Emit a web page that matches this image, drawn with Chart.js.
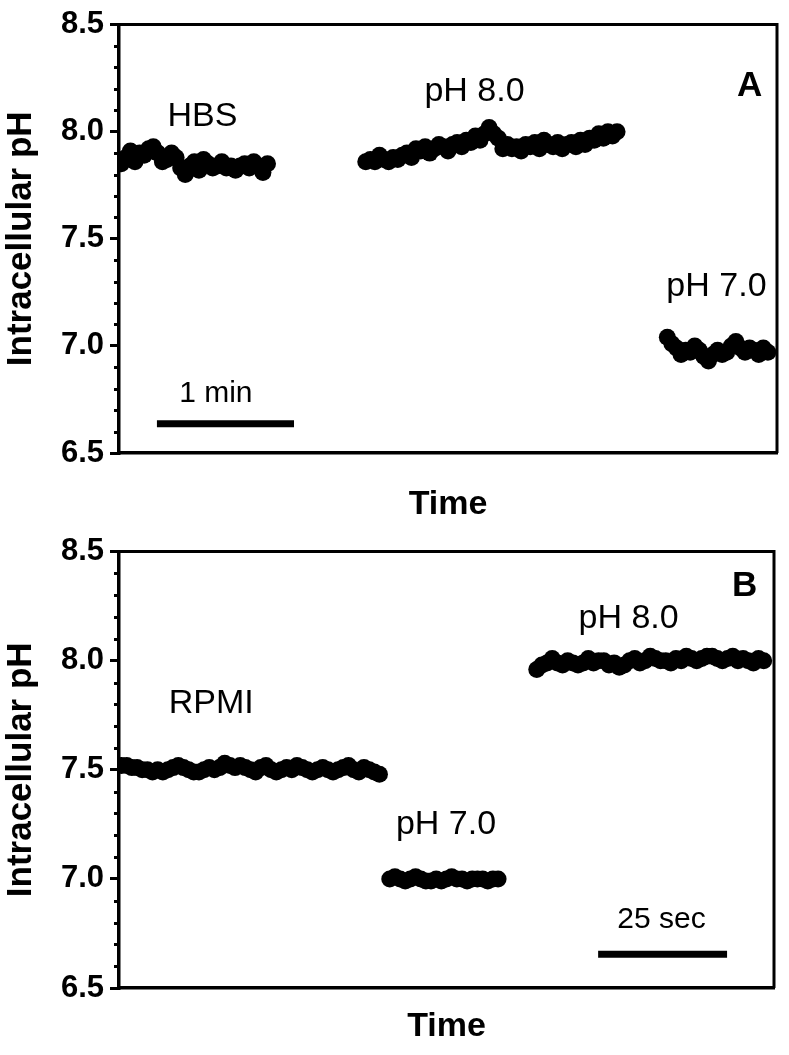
<!DOCTYPE html>
<html>
<head>
<meta charset="utf-8">
<script src="https://cdn.jsdelivr.net/npm/chart.js@4.4.1/dist/chart.umd.min.js"></script>
<style>
  body { margin: 0; background: #fff; }
  .panel { position: absolute; left: 0; }
</style>
</head>
<body>
<canvas id="panelA" class="panel" width="789" height="527" style="top:0"></canvas>
<canvas id="panelB" class="panel" width="789" height="528" style="top:527px"></canvas>
<script>
// y axis labels shared by both panels
const yTicks = [6.5, 7.0, 7.5, 8.0, 8.5];

// Panel A - sampled every 2 s
const aStep = 2;
const aHbsStart = 1;
const aHbsPH = [7.85, 7.88, 7.91, 7.86, 7.90, 7.89, 7.92, 7.93, 7.90, 7.86,
  7.87, 7.90, 7.88, 7.83, 7.80, 7.84, 7.86, 7.82, 7.87, 7.85,
  7.83, 7.84, 7.86, 7.83, 7.84, 7.82, 7.84, 7.85, 7.83, 7.86,
  7.84, 7.81, 7.85];
const aPh8Start = 108;
const aPh8PH = [7.86, 7.87, 7.86, 7.89, 7.87, 7.86, 7.88, 7.87, 7.89, 7.90,
  7.88, 7.92, 7.91, 7.93, 7.90, 7.92, 7.94, 7.93, 7.91, 7.94,
  7.95, 7.93, 7.96, 7.95, 7.98, 7.96, 7.99, 8.02, 7.99, 7.97,
  7.92, 7.94, 7.92, 7.93, 7.91, 7.94, 7.93, 7.95, 7.92, 7.96,
  7.94, 7.93, 7.95, 7.92, 7.94, 7.95, 7.93, 7.96, 7.94, 7.97,
  7.96, 7.99, 7.97, 8.00, 7.98, 8.00];
const aPh7Start = 240;
const aPh7PH = [7.04, 7.01, 6.99, 6.96, 6.98, 6.97, 7.00, 6.98, 6.95, 6.93,
  6.96, 6.98, 6.96, 6.97, 7.00, 7.02, 6.99, 6.97, 6.99, 6.98,
  6.96, 6.99, 6.97];

// Panel B - sampled every 1 s
const bStep = 1;
const bRpmiStart = 0.5;
const bRpmiPH = [7.52, 7.52, 7.51, 7.51, 7.50, 7.50, 7.49, 7.50, 7.49, 7.50,
  7.51, 7.52, 7.51, 7.50, 7.49, 7.49, 7.50, 7.51, 7.50, 7.51,
  7.53, 7.52, 7.51, 7.52, 7.51, 7.50, 7.49, 7.51, 7.52, 7.50,
  7.49, 7.50, 7.51, 7.50, 7.52, 7.51, 7.50, 7.49, 7.50, 7.51,
  7.50, 7.49, 7.50, 7.51, 7.52, 7.50, 7.49, 7.51, 7.50, 7.49,
  7.48];
const bPh7Start = 52.5;
const bPh7PH = [7.00, 7.01, 7.00, 6.99, 7.00, 7.01, 7.00, 6.99, 6.99, 7.00,
  6.99, 7.00, 7.01, 7.00, 7.00, 6.99, 7.00, 7.00, 7.00, 6.99,
  7.00, 7.00];
const bPh8Start = 81;
const bPh8PH = [7.96, 7.98, 7.99, 8.01, 7.99, 7.98, 8.00, 7.99, 7.98, 7.99,
  8.01, 7.99, 8.00, 8.00, 7.98, 7.99, 7.97, 7.98, 8.00, 8.01,
  7.99, 8.00, 8.02, 8.01, 8.00, 8.00, 7.99, 8.01, 8.00, 8.02,
  8.01, 8.00, 8.01, 8.02, 8.02, 8.01, 8.00, 8.01, 8.02, 8.00,
  8.01, 8.00, 7.99, 8.01, 8.00];

const FONT = '"Liberation Sans", Arial, Helvetica, sans-serif';

function series(start, step, values) {
  return values.map((v, i) => ({ x: start + i * step, y: v }));
}

function dots(data) {
  return {
    data: data,
    backgroundColor: '#000',
    borderWidth: 0,
    pointRadius: 8.5,
    pointHoverRadius: 8.5
  };
}

function scaleBar(from, to, level) {
  return {
    data: [{ x: from, y: level }, { x: to, y: level }],
    showLine: true,
    borderColor: '#000',
    borderWidth: 7,
    borderCapStyle: 'butt',
    pointRadius: 0
  };
}

// minor ticks, frame and text labels
const decorations = {
  id: 'decorations',
  afterDraw(chart, args, opts) {
    const ctx = chart.ctx;
    const a = chart.chartArea;
    const xs = chart.scales.x, ys = chart.scales.y;
    ctx.save();
    ctx.strokeStyle = '#000';
    ctx.lineWidth = 3;
    ctx.beginPath();
    for (let k = 1; k < 20; k++) {
      if (k % 5 === 0) continue;
      const py = Math.round(ys.getPixelForValue(ys.min + k * 0.1)) + 0.5;
      ctx.moveTo(a.left - 5, py);
      ctx.lineTo(a.left, py);
    }
    ctx.stroke();
    ctx.lineWidth = 3;
    ctx.beginPath();
    ctx.moveTo(a.left, a.top);
    ctx.lineTo(a.right, a.top);
    ctx.lineTo(a.right, a.bottom);
    ctx.stroke();
    ctx.fillStyle = '#000';
    ctx.textAlign = 'center';
    ctx.textBaseline = 'alphabetic';
    opts.labels.forEach(l => {
      ctx.font = l.font;
      ctx.fillText(l.text, xs.getPixelForValue(l.x), ys.getPixelForValue(l.y));
    });
    ctx.restore();
  }
};

function makePanel(id, o) {
  return new Chart(document.getElementById(id), {
    type: 'scatter',
    data: { datasets: o.datasets },
    options: {
      responsive: false,
      animation: false,
      devicePixelRatio: 1,
      layout: { padding: { top: o.top, right: o.right, left: 0, bottom: 0 } },
      plugins: {
        legend: { display: false },
        tooltip: { enabled: false },
        decorations: { labels: o.labels }
      },
      scales: {
        x: {
          type: 'linear',
          min: 0,
          max: o.xMax,
          ticks: { display: false },
          grid: { display: false },
          border: { display: true, color: '#000', width: 3.5 },
          title: {
            display: true,
            text: 'Time',
            color: '#000',
            font: { family: FONT, size: 34, weight: 'bold' },
            padding: { top: 0, bottom: o.timePad }
          },
          afterFit: s => { s.height = o.xHeight; }
        },
        y: {
          min: 6.5,
          max: 8.5,
          afterBuildTicks: s => { s.ticks = yTicks.map(v => ({ value: v })); },
          ticks: {
            color: '#000',
            padding: 6,
            font: { family: FONT, size: 31, weight: 'bold' },
            callback: v => Number(v).toFixed(1)
          },
          grid: {
            drawOnChartArea: false,
            drawTicks: true,
            tickLength: 9,
            lineWidth: 3,
            tickWidth: 3,
            tickColor: '#000',
            color: '#000'
          },
          border: { display: true, color: '#000', width: 3.5 },
          title: {
            display: true,
            text: 'Intracellular pH',
            color: '#000',
            font: { family: FONT, size: 35, weight: 'bold' },
            padding: { top: 0, bottom: 0 }
          },
          afterFit: s => { s.width = 119; }
        }
      }
    },
    plugins: [decorations]
  });
}

makePanel('panelA', {
  top: 15, right: 12, xMax: 288, xHeight: 74, timePad: 2,
  datasets: [
    dots(series(aHbsStart, aStep, aHbsPH)),
    dots(series(aPh8Start, aStep, aPh8PH)),
    dots(series(aPh7Start, aStep, aPh7PH)),
    scaleBar(16.6, 76.6, 6.637)
  ],
  labels: [
    { text: 'HBS', x: 36.5, y: 8.025, font: '34px ' + FONT },
    { text: 'pH 8.0', x: 155.6, y: 8.144, font: '34px ' + FONT },
    { text: 'pH 7.0', x: 261.5, y: 7.231, font: '34px ' + FONT },
    { text: '1 min', x: 42.4, y: 6.737, font: '30px ' + FONT },
    { text: 'A', x: 276, y: 8.167, font: 'bold 35px ' + FONT }
  ]
});

makePanel('panelB', {
  top: 23, right: 15, xMax: 127, xHeight: 67, timePad: 8,
  datasets: [
    dots(series(bRpmiStart, bStep, bRpmiPH)),
    dots(series(bPh7Start, bStep, bPh7PH)),
    dots(series(bPh8Start, bStep, bPh8PH)),
    scaleBar(92.9, 117.9, 6.655)
  ],
  labels: [
    { text: 'RPMI', x: 17.9, y: 7.76, font: '34px ' + FONT },
    { text: 'pH 7.0', x: 63.4, y: 7.208, font: '34px ' + FONT },
    { text: 'pH 8.0', x: 98.8, y: 8.148, font: '34px ' + FONT },
    { text: '25 sec', x: 105.2, y: 6.774, font: '30px ' + FONT },
    { text: 'B', x: 121.3, y: 8.295, font: 'bold 35px ' + FONT }
  ]
});
</script>
</body>
</html>
